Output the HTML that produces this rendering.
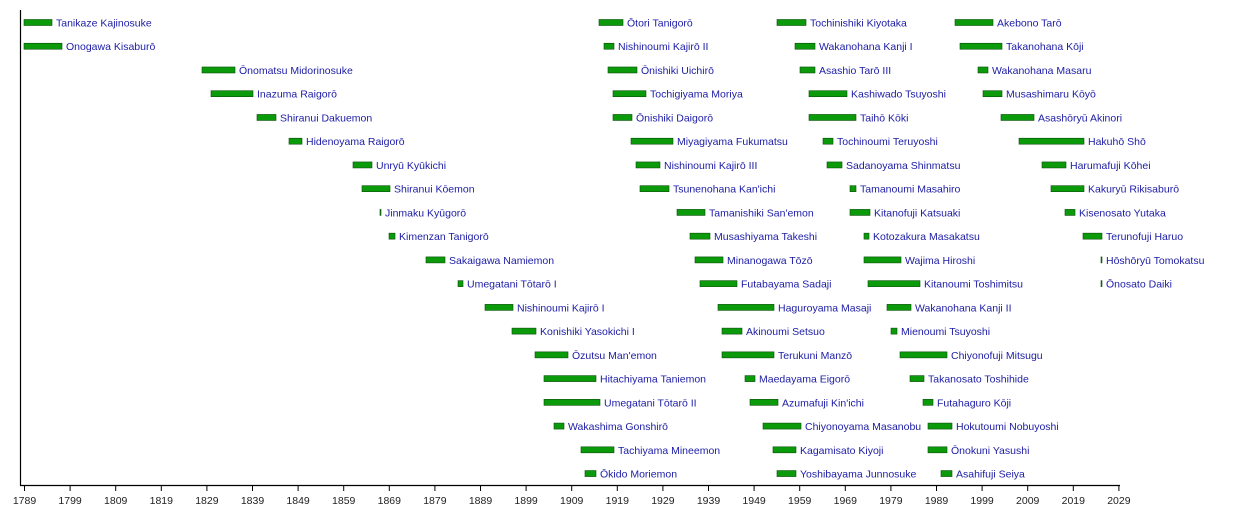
<!DOCTYPE html>
<html><head><meta charset="utf-8"><style>body{margin:0;background:#fff}svg{display:block}text{font-family:"Liberation Sans",sans-serif}</style></head><body>
<svg width="1250" height="515" xmlns="http://www.w3.org/2000/svg">
<g id="bars"></g>
<line x1="20.5" y1="10" x2="20.5" y2="485.5" stroke="#000" stroke-width="1.2"/>
<line x1="20" y1="485.5" x2="1120" y2="485.5" stroke="#000" stroke-width="1.2"/>
<g id="ticks" font-size="10.5" fill="#222" text-anchor="middle"></g>
</svg>
<script>
const ns="http://www.w3.org/2000/svg";
const data=[
[[24,52,"Tanikaze Kajinosuke"],[24,62,"Onogawa Kisaburō"],[202,235,"Ōnomatsu Midorinosuke"],[211,253,"Inazuma Raigorō"],[257,276,"Shiranui Dakuemon"],[289,302,"Hidenoyama Raigorō"],[353,372,"Unryū Kyūkichi"],[362,390,"Shiranui Kōemon"],[380,381,"Jinmaku Kyūgorō"],[389,395,"Kimenzan Tanigorō"],[426,445,"Sakaigawa Namiemon"],[458,463,"Umegatani Tōtarō I"],[485,513,"Nishinoumi Kajirō I"],[512,536,"Konishiki Yasokichi I"],[535,568,"Ōzutsu Man'emon"],[544,596,"Hitachiyama Taniemon"],[544,600,"Umegatani Tōtarō II"],[554,564,"Wakashima Gonshirō"],[581,614,"Tachiyama Mineemon"],[585,596,"Ōkido Moriemon"]],
[[599,623,"Ōtori Tanigorō"],[604,614,"Nishinoumi Kajirō II"],[608,637,"Ōnishiki Uichirō"],[613,646,"Tochigiyama Moriya"],[613,632,"Ōnishiki Daigorō"],[631,673,"Miyagiyama Fukumatsu"],[636,660,"Nishinoumi Kajirō III"],[640,669,"Tsunenohana Kan'ichi"],[677,705,"Tamanishiki San'emon"],[690,710,"Musashiyama Takeshi"],[695,723,"Minanogawa Tōzō"],[700,737,"Futabayama Sadaji"],[718,774,"Haguroyama Masaji"],[722,742,"Akinoumi Setsuo"],[722,774,"Terukuni Manzō"],[745,755,"Maedayama Eigorō"],[750,778,"Azumafuji Kin'ichi"],[763,801,"Chiyonoyama Masanobu"],[773,796,"Kagamisato Kiyoji"],[777,796,"Yoshibayama Junnosuke"]],
[[777,806,"Tochinishiki Kiyotaka"],[795,815,"Wakanohana Kanji I"],[800,815,"Asashio Tarō III"],[809,847,"Kashiwado Tsuyoshi"],[809,856,"Taihō Kōki"],[823,833,"Tochinoumi Teruyoshi"],[827,842,"Sadanoyama Shinmatsu"],[850,856,"Tamanoumi Masahiro"],[850,870,"Kitanofuji Katsuaki"],[864,869,"Kotozakura Masakatsu"],[864,901,"Wajima Hiroshi"],[868,920,"Kitanoumi Toshimitsu"],[887,911,"Wakanohana Kanji II"],[891,897,"Mienoumi Tsuyoshi"],[900,947,"Chiyonofuji Mitsugu"],[910,924,"Takanosato Toshihide"],[923,933,"Futahaguro Kōji"],[928,952,"Hokutoumi Nobuyoshi"],[928,947,"Ōnokuni Yasushi"],[941,952,"Asahifuji Seiya"]],
[[955,993,"Akebono Tarō"],[960,1002,"Takanohana Kōji"],[978,988,"Wakanohana Masaru"],[983,1002,"Musashimaru Kōyō"],[1001,1034,"Asashōryū Akinori"],[1019,1084,"Hakuhō Shō"],[1042,1066,"Harumafuji Kōhei"],[1051,1084,"Kakuryū Rikisaburō"],[1065,1075,"Kisenosato Yutaka"],[1083,1102,"Terunofuji Haruo"],[1101,1102,"Hōshōryū Tomokatsu"],[1101,1102,"Ōnosato Daiki"]]];
const g=document.getElementById("bars");
data.forEach(col=>col.forEach((d,i)=>{
 const cy=22.5+i*23.74;
 const r=document.createElementNS(ns,"rect");
 r.setAttribute("x",d[0]);r.setAttribute("y",cy-3);r.setAttribute("width",Math.max(1,d[1]-d[0]));r.setAttribute("height",6);
 r.setAttribute("fill","#0a9a0a");r.setAttribute("stroke","#0b4f0b");r.setAttribute("stroke-width","0.6");
 g.appendChild(r);
 const t=document.createElementNS(ns,"text");
 t.setAttribute("x",d[1]+4);t.setAttribute("y",cy+4);t.setAttribute("font-size","10.5");t.setAttribute("fill","#1c1ca6");
 t.textContent=d[2];g.appendChild(t);
}));
const tk=document.getElementById("ticks");
for(let k=0;k<=24;k++){
 const x=24.5+k*45.6;
 const l=document.createElementNS(ns,"line");
 l.setAttribute("x1",x);l.setAttribute("x2",x);l.setAttribute("y1",485);l.setAttribute("y2",491);l.setAttribute("stroke","#000");
 tk.appendChild(l);
 const t=document.createElementNS(ns,"text");
 t.setAttribute("x",x);t.setAttribute("y",504);t.textContent=1789+10*k;tk.appendChild(t);
}
</script>
</body></html>
